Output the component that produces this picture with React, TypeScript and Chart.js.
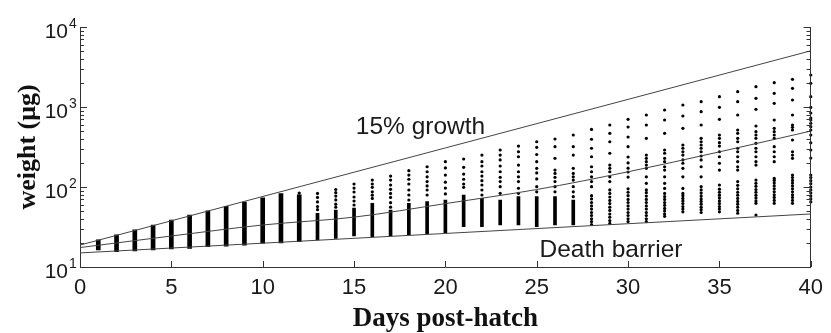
import React, { useEffect, useRef } from 'react';
import { Chart, registerables } from 'chart.js';

Chart.register(...registerables);

// ---- data ----
const days = [1, 2, 3, 4, 5, 6, 7, 8, 9, 10, 11, 12, 13, 14, 15, 16, 17, 18, 19, 20,
  21, 22, 23, 24, 25, 26, 27, 28, 29, 30, 31, 32, 33, 34, 35, 36, 37, 38, 39, 40];

// dense (continuous-looking) part of each early column: days 1..27
const denseLow = [16.3, 15.6, 15.9, 16.3, 16.8, 17.1, 17.9, 18.2, 18.8, 19.8, 20, 20.7, 21.8, 22.8,
  24.4, 23.9, 24.4, 25.1, 25.9, 26.6, 31.9, 31.9, 33.5, 33.5, 31.9, 33.5, 33.5];
const denseHigh = [21.8, 25.2, 29.2, 33.5, 38.5, 44.5, 50.5, 57.5, 65, 73, 83, 80, 47, 51.6,
  54.6, 62.5, 51.6, 62.5, 65.5, 68.8, 79.4, 72.2, 68.8, 75.7, 75.7, 75.7, 68.8];
const solidColumnCount = 12; // days 1..12 are drawn as wider solid columns

// discrete dots per day (index = day - 1)
const dotsByDay: number[][] = [
  [], [], [], [], [], [], [], [], [], [], [],
  [84],
  [52, 57, 65, 74, 83],
  [56, 61, 69, 77, 85, 93],
  [59.6, 66.8, 75, 86.6, 97, 109],
  [72, 79, 87, 99, 109, 122],
  [56, 63.6, 74, 83, 93.5, 106, 122, 137],
  [68.8, 79.4, 91.7, 109, 125, 141, 160],
  [79.4, 91.7, 103, 117, 134, 155, 179],
  [82, 97, 115, 141, 173, 207],
  [99, 109, 125, 145, 176, 224],
  [79.4, 91.7, 106, 120, 137, 155, 183, 207, 251],
  [83.4, 101, 117, 132, 155, 183, 218, 251, 290],
  [83.4, 96.4, 117, 134, 155, 188, 239, 276, 325],
  [87, 101, 126, 150, 171, 207, 255, 313, 368],
  [87, 101, 117, 132, 148, 163, 228, 319, 398],
  [75.7, 87, 101, 122, 134, 148, 171, 251, 319, 447],
  [34, 37, 40, 44, 48, 53, 58, 64, 71, 78, 101, 117, 134, 155, 179, 239, 305, 395, 525],
  [35, 38, 42, 46, 51, 56, 62, 68, 75, 83, 92, 117, 134, 155, 171, 188, 264, 368, 469, 596],
  [37, 40, 44, 48, 53, 58, 64, 70, 78, 86, 95, 133, 154, 172, 200, 237, 319, 422, 562, 702],
  [37, 40, 44, 48, 53, 58, 64, 70, 77, 85, 92, 111, 134, 171, 188, 207, 228, 251, 406, 596, 794],
  [43, 46, 50, 54, 59, 64, 70, 76, 83, 96, 111, 134, 163, 179, 207, 228, 264, 290, 469, 688, 917],
  [49, 53, 57, 62, 67, 72, 78, 83, 96, 134, 171, 198, 218, 251, 276, 305, 335, 542, 772, 1059],
  [48, 52, 56, 61, 66, 71, 77, 84, 92, 101, 134, 179, 218, 244, 276, 305, 335, 368, 406, 596, 873, 1164],
  [49, 53, 57, 62, 67, 73, 79, 86, 94, 106, 163, 198, 239, 276, 325, 358, 406, 447, 702, 991, 1345],
  [47, 51, 56, 61, 66, 72, 79, 86, 95, 105, 117, 163, 179, 207, 239, 276, 305, 368, 406, 469, 516, 794, 1164, 1553],
  [44.7, 62.5, 67, 73, 79, 86, 93, 102, 111, 122, 188, 207, 239, 276, 305, 352, 406, 447, 491, 579, 935, 1285, 1794],
  [62.5, 68, 74, 80, 87, 95, 103, 112, 121, 128, 207, 239, 276, 319, 406, 447, 491, 542, 688, 1112, 1482, 2013],
  [62.5, 68, 74, 80, 87, 95, 103, 112, 121, 131, 141, 228, 251, 276, 387, 516, 557, 596, 794, 1224, 1714, 2218],
  [65, 71, 77, 84, 92, 100, 110, 120, 131, 141, 230, 290, 357, 447, 516, 567, 625, 688, 729, 841, 988, 1345, 1977, 2512],
];

const upperLineDays = [0, 40];
const upperLineWeights = [18.8, 5040];
const barrierDays = [0, 40];
const barrierWeights = [15, 46];
const middleDays = [0, 5, 10, 15, 20, 25, 30, 35, 40];
const middleWeights = [17.5, 24.4, 33.5, 42, 62, 93, 155, 275, 500];

const xTickValues = [0, 5, 10, 15, 20, 25, 30, 35, 40];
const yTickValues = [10, 100, 1000, 10000];
const yTickExponents = ['1', '2', '3', '4'];
const yMinorMultipliers = [2, 3, 4, 5, 6, 7, 8, 9];

const annotationTexts = ['15% growth', 'Death barrier'];
const annotationDays = [15.1, 25.15];
const annotationWeights = [460, 13.4];

const AXIS_COLOR = '#333';
const LINE_COLOR = '#444';
const TEXT_COLOR = '#1a1a1a';

export default function App() {
  const ref = useRef<HTMLCanvasElement>(null);

  useEffect(() => {
    document.body.style.margin = '0';
    const canvas = ref.current;
    if (!canvas) return;

    const scatterPoints: { x: number; y: number }[] = [];
    dotsByDay.forEach((vals, i) => vals.forEach((v) => scatterPoints.push({ x: days[i], y: v })));
    const barPoints = denseLow.map((lo, i) => ({ x: days[i], y: [lo, denseHigh[i]] }));
    const solidBars = barPoints.slice(0, solidColumnCount);
    const clusterBars = barPoints.slice(solidColumnCount);
    const toXY = (xs: number[], ys: number[]) => xs.map((x, i) => ({ x, y: ys[i] }));

    const decor = {
      id: 'decor',
      afterDraw(chart: any) {
        const { ctx, chartArea: a, scales } = chart;
        const xs = scales.x;
        const ys = scales.y;
        ctx.save();
        ctx.strokeStyle = AXIS_COLOR;
        ctx.lineWidth = 1;
        ctx.beginPath();
        const rx = Math.round(a.right) - 0.5;
        ctx.moveTo(rx, a.top);
        ctx.lineTo(rx, a.bottom);
        xTickValues.forEach((v) => {
          const px = Math.round(xs.getPixelForValue(v)) + 0.5;
          ctx.moveTo(px, a.bottom);
          ctx.lineTo(px, a.bottom - 6);
        });
        yTickValues.forEach((dec, di) => {
          const list = [{ v: dec, major: true }];
          if (di < yTickValues.length - 1) yMinorMultipliers.forEach((m) => list.push({ v: dec * m, major: false }));
          list.forEach(({ v, major }) => {
            const py = Math.round(ys.getPixelForValue(v)) + 0.5;
            const len = major ? 7 : 4;
            ctx.moveTo(a.left, py);
            ctx.lineTo(a.left + len, py);
            ctx.moveTo(rx, py);
            ctx.lineTo(rx - len, py);
          });
        });
        ctx.stroke();

        ctx.fillStyle = TEXT_COLOR;
        ctx.textBaseline = 'alphabetic';
        yTickValues.forEach((v, i) => {
          const py = ys.getPixelForValue(v);
          ctx.font = '21px "Liberation Sans", Arial, sans-serif';
          ctx.textAlign = 'right';
          ctx.fillText('10', 68, py + 11);
          ctx.font = '14px "Liberation Sans", Arial, sans-serif';
          ctx.textAlign = 'left';
          ctx.fillText(yTickExponents[i], 69, py + 1);
        });

        ctx.font = '24.5px "Liberation Sans", Arial, sans-serif';
        ctx.textAlign = 'left';
        annotationTexts.forEach((t, i) => {
          ctx.fillText(t, xs.getPixelForValue(annotationDays[i]), ys.getPixelForValue(annotationWeights[i]));
        });
        ctx.restore();
      },
    };

    const chart = new Chart(canvas, {
      type: 'scatter',
      data: {
        datasets: [
          {
            type: 'line',
            label: '15% growth',
            data: toXY(upperLineDays, upperLineWeights),
            borderColor: LINE_COLOR,
            borderWidth: 1,
            pointRadius: 0,
            showLine: true,
          } as any,
          {
            type: 'line',
            label: 'middle',
            data: toXY(middleDays, middleWeights),
            borderColor: LINE_COLOR,
            borderWidth: 1,
            pointRadius: 0,
            showLine: true,
            cubicInterpolationMode: 'monotone',
          } as any,
          {
            type: 'line',
            label: 'Death barrier',
            data: toXY(barrierDays, barrierWeights),
            borderColor: LINE_COLOR,
            borderWidth: 1,
            pointRadius: 0,
            showLine: true,
          } as any,
          {
            type: 'bar',
            label: 'solid columns',
            data: solidBars,
            backgroundColor: '#000',
            borderWidth: 0,
            barThickness: 4,
            grouped: false,
          } as any,
          {
            type: 'bar',
            label: 'dense clusters',
            data: clusterBars,
            backgroundColor: '#000',
            borderWidth: 0,
            barThickness: 3,
            grouped: false,
          } as any,
          {
            type: 'scatter',
            label: 'dots',
            data: scatterPoints,
            backgroundColor: '#000',
            borderWidth: 0,
            pointRadius: 1.6,
            clip: false,
          } as any,
        ],
      },
      options: {
        responsive: false,
        animation: false,
        events: [],
        layout: { padding: { top: 27, right: 14, left: 0, bottom: 0 } },
        plugins: { legend: { display: false }, tooltip: { enabled: false } },
        scales: {
          x: {
            type: 'linear',
            min: 0,
            max: 40,
            offset: false,
            grid: { display: false, drawTicks: false, offset: false },
            border: { display: true, color: AXIS_COLOR, width: 1 },
            afterBuildTicks: (s: any) => {
              s.ticks = xTickValues.map((v) => ({ value: v }));
            },
            ticks: {
              font: { family: '"Liberation Sans", Arial, sans-serif', size: 22 },
              color: TEXT_COLOR,
              padding: 8,
              maxRotation: 0,
              autoSkip: false,
            },
            title: {
              display: true,
              text: 'Days post-hatch',
              color: '#111',
              font: { family: '"Liberation Serif", "Times New Roman", serif', size: 27, weight: 'bold', lineHeight: 1 },
              padding: 0,
            },
            afterFit: (s: any) => {
              s.height = 66;
            },
          },
          y: {
            type: 'logarithmic',
            min: 10,
            max: 10000,
            grid: { display: false, drawTicks: false },
            border: { display: true, color: AXIS_COLOR, width: 1 },
            ticks: { display: false },
            title: {
              display: true,
              text: 'weight (μg)',
              color: '#111',
              font: { family: '"Liberation Serif", "Times New Roman", serif', size: 26, weight: 'bold', lineHeight: 1 },
              padding: { top: 15, bottom: 0 },
            },
            afterFit: (s: any) => {
              s.width = 80;
            },
          },
        },
      } as any,
      plugins: [decor],
    });

    return () => chart.destroy();
  }, []);

  return (
    <div style={{ width: 831, height: 333 }}>
      <canvas ref={ref} width={831} height={333} style={{ display: 'block' }} />
    </div>
  );
}
